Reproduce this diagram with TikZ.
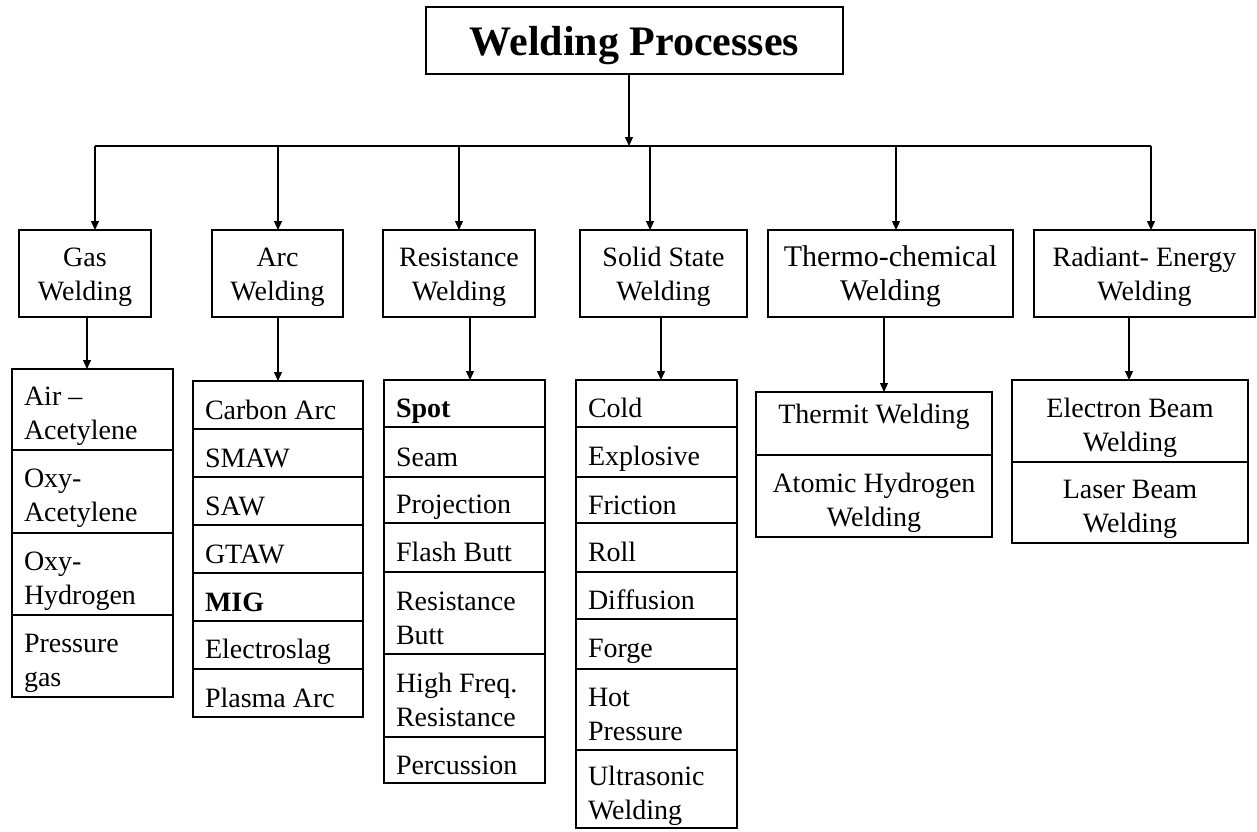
\documentclass[tikz,border=0pt]{standalone}
\usepackage{fontspec}
\setmainfont{Liberation Serif}
\usetikzlibrary{arrows.meta}
\newcommand{\itemfont}{\fontsize{28}{34}\selectfont}
\newcommand{\catfont}{\fontsize{28}{34}\selectfont}
\newcommand{\topstrut}{\rule{0pt}{33pt}}
\newcommand{\botstrut}{\rule[-5pt]{0pt}{5pt}}
\newcommand{\cattop}{\rule{0pt}{29pt}}
\newcommand{\catbot}{\rule[-9pt]{0pt}{9pt}}
\begin{document}
\begin{tikzpicture}[x=1pt,y=-1pt,
  titlebox/.style={draw, line width=1.8pt, outer sep=0pt, inner sep=0pt,
    minimum width=417pt, minimum height=67pt,
    font=\bfseries\fontsize{42}{48}\selectfont},
  struts/.style={execute at begin node=\topstrut, execute at end node=\botstrut},
  catstruts/.style={execute at begin node=\cattop, execute at end node=\catbot},
  catbox/.style={draw, line width=1.3pt, outer sep=0pt, inner sep=0pt,
    minimum height=87pt, align=flush center, font=\catfont, catstruts},
  itembox/.style={draw, line width=2.8pt, outer sep=0pt, inner ysep=0pt,
    inner xsep=12pt, anchor=north west, align=flush left, font=\itemfont, struts},
  itemc/.style={itembox, align=flush center, inner xsep=4pt},
  arr/.style={line width=1.2pt, -{Triangle[length=9pt,width=8pt]}},
  bus/.style={line width=2pt}
]
\useasboundingbox (0,0) rectangle (1257,831);
\fill[white] (0,0) rectangle (1257,831);

% title
\node[titlebox] (title) at (634.5,40.5) {\raisebox{-5pt}[\height][\depth]{Welding Processes}};

% bus
\coordinate (b0) at (629,146);
\coordinate (bl) at (95,146);
\coordinate (br) at (1151,146);
\coordinate (d1) at (95,146);
\coordinate (d2) at (278,146);
\coordinate (d3) at (459,146);
\coordinate (d4) at (650,146);
\coordinate (d5) at (896,146);
\coordinate (d6) at (1151,146);
\draw[bus] (bl) -- (br);
\draw[arr] (title.south -| b0) -- (b0);

% category boxes
\node[catbox, minimum width=132pt, text width=128pt] (gas) at (85,273.5) {Gas\\Welding};
\node[catbox, minimum width=131pt, text width=127pt] (arc) at (277.5,273.5) {Arc\\Welding};
\node[catbox, minimum width=152pt, text width=148pt] (res) at (459,273.5) {Resistance\\Welding};
\node[catbox, minimum width=167pt, text width=163pt] (sol) at (663.5,273.5) {Solid State\\Welding};
\node[catbox, minimum width=245pt, text width=241pt, font=\fontsize{30}{34}\selectfont] (thm) at (890.5,273.5) {Thermo-chemical\\Welding};
\node[catbox, minimum width=221pt, text width=217pt] (rad) at (1144.5,273.5) {Radiant- Energy\\Welding};

\draw[arr] (d1) -- (d1 |- gas.north);
\draw[arr] (d2) -- (d2 |- arc.north);
\draw[arr] (d3) -- (d3 |- res.north);
\draw[arr] (d4) -- (d4 |- sol.north);
\draw[arr] (d5) -- (d5 |- thm.north);
\draw[arr] (d6) -- (d6 |- rad.north);

% Gas list
\begin{scope}[every node/.append style={minimum width=161pt, text width=137pt}]
\node[itembox, minimum height=81pt] (g1) at (12,369) {Air --\\Acetylene};
\node[itembox, minimum height=83pt] (g2) at (12,450) {Oxy-\\Acetylene};
\node[itembox, minimum height=82pt] (g3) at (12,533) {Oxy-\\Hydrogen};
\node[itembox, minimum height=82pt] (g4) at (12,615) {Pressure\\gas};
\end{scope}

% Arc list
\begin{scope}[every node/.append style={minimum width=170pt, text width=146pt}]
\node[itembox, minimum height=48pt] (a1) at (193,381) {Carbon Arc};
\node[itembox, minimum height=48pt] (a2) at (193,429) {SMAW};
\node[itembox, minimum height=48pt] (a3) at (193,477) {SAW};
\node[itembox, minimum height=48pt] (a4) at (193,525) {GTAW};
\node[itembox, minimum height=48pt] (a5) at (193,573) {\textbf{MIG}};
\node[itembox, minimum height=48pt] (a6) at (193,621) {Electroslag};
\node[itembox, minimum height=48pt] (a7) at (193,669) {Plasma Arc};
\end{scope}

% Resistance list
\begin{scope}[every node/.append style={minimum width=161pt, text width=137pt}]
\node[itembox, minimum height=47pt] (r1) at (384,380) {\textbf{Spot}};
\node[itembox, minimum height=50pt] (r2) at (384,427) {Seam};
\node[itembox, minimum height=46pt] (r3) at (384,477) {Projection};
\node[itembox, minimum height=49pt] (r4) at (384,523) {Flash Butt};
\node[itembox, minimum height=82pt] (r5) at (384,572) {Resistance\\Butt};
\node[itembox, minimum height=83pt] (r6) at (384,654) {High Freq.\\Resistance};
\node[itembox, minimum height=46pt] (r7) at (384,737) {Percussion};
\end{scope}

% Solid state list
\begin{scope}[every node/.append style={minimum width=161pt, text width=137pt}]
\node[itembox, minimum height=47pt] (s1) at (576,380) {Cold};
\node[itembox, minimum height=50pt] (s2) at (576,427) {Explosive};
\node[itembox, minimum height=46pt] (s3) at (576,477) {Friction};
\node[itembox, minimum height=49pt] (s4) at (576,523) {Roll};
\node[itembox, minimum height=47pt] (s5) at (576,572) {Diffusion};
\node[itembox, minimum height=50pt] (s6) at (576,619) {Forge};
\node[itembox, minimum height=81pt] (s7) at (576,669) {Hot\\Pressure};
\node[itembox, minimum height=78pt] (s8) at (576,750) {Ultrasonic\\Welding};
\end{scope}

% Thermo-chemical list
\begin{scope}[every node/.append style={minimum width=236pt, text width=228pt}]
\node[itemc, minimum height=63pt] (t1) at (756,392) {\raisebox{14pt}[0pt][0pt]{Thermit Welding}};
\node[itemc, minimum height=82pt] (t2) at (756,455) {Atomic Hydrogen\\Welding};
\end{scope}

% Radiant list
\begin{scope}[every node/.append style={minimum width=236pt, text width=228pt}]
\node[itemc, minimum height=82pt] (e1) at (1012,380) {Electron Beam\\Welding};
\node[itemc, minimum height=81pt] (e2) at (1012,462) {Laser Beam\\Welding};
\end{scope}

% arrows to lists
\coordinate (l1) at (87,0);
\coordinate (l2) at (278,0);
\coordinate (l3) at (470,0);
\coordinate (l4) at (661,0);
\coordinate (l5) at (884,0);
\coordinate (l6) at (1129,0);
\draw[arr] (l1 |- gas.south) -- (l1 |- g1.north);
\draw[arr] (l2 |- arc.south) -- (l2 |- a1.north);
\draw[arr] (l3 |- res.south) -- (l3 |- r1.north);
\draw[arr] (l4 |- sol.south) -- (l4 |- s1.north);
\draw[arr] (l5 |- thm.south) -- (l5 |- t1.north);
\draw[arr] (l6 |- rad.south) -- (l6 |- e1.north);
\end{tikzpicture}
\end{document}
